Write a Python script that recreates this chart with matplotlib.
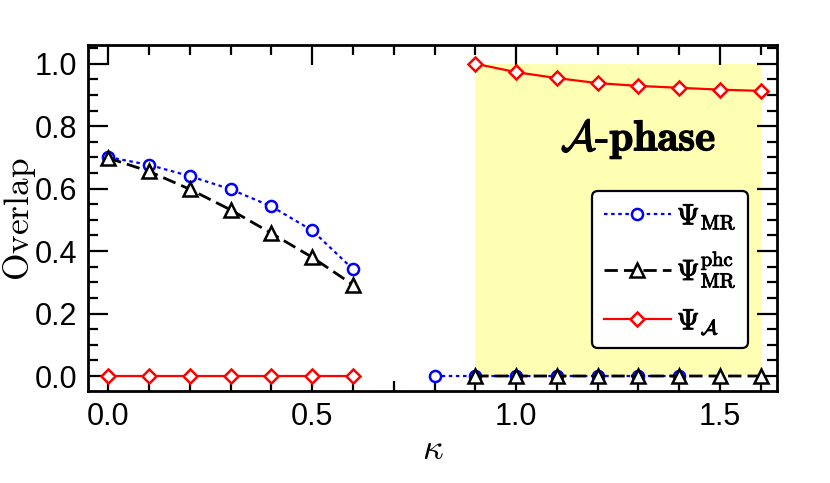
import numpy as np
import matplotlib
matplotlib.use("Agg")
import matplotlib.pyplot as plt
import matplotlib.patheffects as pe
from matplotlib.ticker import MultipleLocator, FixedLocator

plt.rcParams['mathtext.fontset'] = 'cm'
plt.rcParams['font.family'] = ['Liberation Sans', 'DejaVu Sans']

# ---- data ----
kappa = [0.0, 0.1, 0.2, 0.3, 0.4, 0.5, 0.6, 0.7, 0.8, 0.9, 1.0, 1.1, 1.2, 1.3, 1.4, 1.5, 1.6]
psi_mr = [0.701, 0.676, 0.640, 0.598, 0.543, 0.466, 0.342, np.nan,
          0.0, 0.0, 0.0, 0.0, 0.0, 0.0, 0.0, np.nan, np.nan]
psi_mr_phc = [0.698, 0.655, 0.598, 0.532, 0.457, 0.380, 0.292, np.nan,
              np.nan, 0.0, 0.0, 0.0, 0.0, 0.0, 0.0, 0.0, 0.0]
psi_a = [0.0, 0.0, 0.0, 0.0, 0.0, 0.0, 0.0, np.nan,
         np.nan, 1.000, 0.973, 0.954, 0.938, 0.929, 0.923, 0.917, 0.913]
phase_range = [0.9, 1.6]
xticks = [0.0, 0.5, 1.0, 1.5]
xtick_labels = ["0.0", "0.5", "1.0", "1.5"]
yticks = [0.0, 0.2, 0.4, 0.6, 0.8, 1.0]
ytick_labels = ["0.0", "0.2", "0.4", "0.6", "0.8", "1.0"]

W, H = 830, 483
fig = plt.figure(figsize=(W/100, H/100), dpi=100)
ax = fig.add_axes([88/W, 1 - 391/H, (777 - 88)/W, (391 - 45)/H])

ax.fill_between(phase_range, 0.0, 1.0, color='#ffffb3', lw=0, zorder=0)

ax.plot(kappa, psi_mr, color='#0000ff', lw=1.6, dashes=(1.6, 1.6),
        marker='o', ms=8, mfc='white', mec='#0000ff', mew=1.8,
        label=r"$\Psi_{\mathrm{MR}}$", zorder=3)
ax.plot(kappa, psi_mr_phc, color='black', lw=2, dashes=(4.8, 2.2),
        marker='^', ms=9.5, mfc='white', mec='black', mew=1.8,
        label=r"$\Psi_{\mathrm{MR}}^{\mathrm{phc}}$", zorder=4)
ax.plot(kappa, psi_a, color='#ff0000', lw=1.6, ls='-',
        marker='D', ms=7, mfc='white', mec='#ff0000', mew=1.8,
        label=r"$\Psi_{\mathcal{A}}$", zorder=5)

ax.set_xlim(-0.05, 1.64)
ax.set_ylim(-0.048, 1.06)

ax.xaxis.set_major_locator(FixedLocator(xticks))
ax.set_xticklabels(xtick_labels)
ax.xaxis.set_minor_locator(MultipleLocator(0.1))
ax.yaxis.set_major_locator(FixedLocator(yticks))
ax.set_yticklabels(ytick_labels)
ax.yaxis.set_minor_locator(MultipleLocator(0.05))

ax.tick_params(which='both', direction='in', top=True, right=True, labelsize=22)
ax.tick_params(which='major', length=14.4, width=1.6, pad=8)
ax.tick_params(which='minor', length=7.2, width=1.6)
for s in ax.spines.values():
    s.set_linewidth(2.0)

ax.set_xlabel(r"$\kappa$", fontsize=26, labelpad=0)
fig.text(0.5/W, 1 - 219/H, r"$\mathrm{Overlap}$", fontsize=25.5, rotation=90,
         ha='left', va='center')

ax.text(1.30, 0.757, r"$\mathcal{A}\text{-}\mathbf{phase}$", fontsize=31,
        ha='center', va='center',
        path_effects=[pe.withStroke(linewidth=0.9, foreground='black')], zorder=6)

leg = ax.legend(loc='lower right', bbox_to_anchor=(0.958, 0.124), fontsize=21,
                frameon=True, fancybox=True, framealpha=1, edgecolor='black',
                handlelength=2.3, handletextpad=0.2, labelspacing=0.62,
                borderpad=0.4, borderaxespad=0)
leg.get_frame().set_linewidth(1.6)
leg.set_zorder(10)
for t in leg.get_texts():
    t.set_path_effects([pe.withStroke(linewidth=0.7, foreground='black')])

fig.savefig("out.png", dpi=100)
